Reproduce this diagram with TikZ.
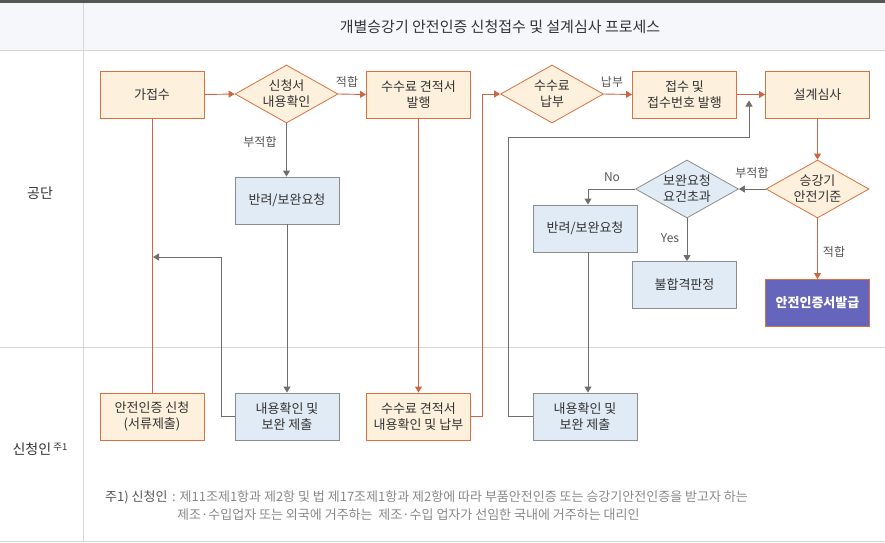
\documentclass[tikz,border=0pt]{standalone}
\usepackage{fontspec}
\setmainfont{Noto Sans CJK KR}
\usetikzlibrary{shapes.geometric,arrows.meta}
\definecolor{ob}{HTML}{D9703F}
\definecolor{of}{HTML}{FDF0DC}
\definecolor{gb}{HTML}{8C8C8C}
\definecolor{gf}{HTML}{E1EBF5}
\definecolor{ga}{HTML}{6E6E6E}
\definecolor{ol}{HTML}{CC6644}
\definecolor{pf}{HTML}{6565BB}
\definecolor{hd}{HTML}{F5F7FB}
\definecolor{ln}{HTML}{D6D6D6}
\definecolor{tx}{HTML}{333333}
\definecolor{lt}{HTML}{555555}
\definecolor{ft}{HTML}{888888}
\definecolor{topbar}{HTML}{555555}
\begin{document}
\begin{tikzpicture}[x=1pt,y=-1pt,
  box/.style={line width=0.9pt, minimum width=104pt, minimum height=47pt, inner sep=0pt, align=center, font=\fontsize{13}{16}\selectfont, text=tx},
  obox/.style={box, draw=ob, fill=of},
  gbox/.style={box, draw=gb, fill=gf},
  pbox/.style={box, draw=ob, fill=pf, text=white, font=\fontsize{13}{16}\selectfont\bfseries},
  dia/.style={diamond, minimum width=103pt, minimum height=58pt, inner sep=0pt, line width=0.8pt},
  odia/.style={dia, draw=ob, fill=of},
  gdia/.style={dia, draw=gb, fill=gf},
  dtext/.style={align=center, font=\fontsize{13}{16}\selectfont, text=tx},
  oarr/.style={draw=ol, line width=0.9pt, -{Triangle[width=7pt,length=6pt]}},
  oline/.style={draw=ol, line width=0.9pt},
  garr/.style={draw=ga, line width=0.9pt, -{Triangle[width=7pt,length=6pt]}},
  lbl/.style={font=\fontsize{12}{14}\selectfont, text=lt},
  lane/.style={draw=ln, line width=0.8pt}
]
\useasboundingbox (0,0) rectangle (885,542);
% background
\fill[hd] (0,2) rectangle (885,50);
\fill[topbar] (0,0) rectangle (885,2.5);
\draw[lane] (0,50) -- (885,50);
\draw[lane] (0,347) -- (885,347);
\draw[lane] (0,541) -- (885,541);
\draw[lane] (83,2.5) -- (83,541);
\node[font=\fontsize{15}{17}\selectfont, text=tx] (title) at (500,27) {개별승강기 안전인증 신청접수 및 설계심사 프로세스};
\node[font=\fontsize{14}{16}\selectfont, text=tx] (lane1) at (40,193) {공단};
\node[font=\fontsize{14}{16}\selectfont, text=tx] (lane2) at (40,449) {신청인\,\raisebox{0.55ex}{\fontsize{9.5}{10}\selectfont 주1}};

% top lane
\node[obox] (gj) at (152,94.5) {가접수};
\node[odia] (d1) at (286.5,94) {};
\node[dtext] (d1t) at (286.5,94) {신청서\\내용확인};
\node[obox] (fee) at (418.5,94.5) {수수료 견적서\\발행};
\node[odia] (d2) at (552,94) {};
\node[dtext] (d2t) at (552,94) {수수료\\납부};
\node[obox] (rcv) at (684.5,94.5) {접수 및\\접수번호 발행};
\node[obox] (des) at (817.5,94.5) {설계심사};
\node[gbox] (rjL) at (287,200.5) {반려/보완요청};
\node[odia] (d3) at (817.5,189) {};
\node[dtext] (d3t) at (817.5,189) {승강기\\안전기준};
\node[gdia] (d4) at (687,189) {};
\node[dtext] (d4t) at (687,189) {보완요청\\요건초과};
\node[gbox] (rjR) at (585,228.5) {반려/보완요청};
\node[gbox] (fail) at (684.5,285) {불합격판정};
\node[pbox] (iss) at (817.5,303) {안전인증서발급};

% bottom lane
\node[obox] (app) at (152,416.5) {안전인증 신청\\(서류제출)};
\node[gbox] (subL) at (287,416.5) {내용확인 및\\보완 제출};
\node[obox] (pay) at (418.5,416.5) {수수료 견적서\\내용확인 및 납부};
\node[gbox] (subR) at (585,416.5) {내용확인 및\\보완 제출};

% coordinates
\coordinate (m1) at (221,416.5);
\coordinate (m2) at (221,257);
\coordinate (m3) at (153,257);
\coordinate (p1) at (482,416.5);
\coordinate (p2) at (482,94);
\coordinate (r1) at (508,416.5);
\coordinate (r2) at (508,137);
\coordinate (r3) at (749,137);
\coordinate (r4) at (749,100.5);
\coordinate (n1) at (588,189);

% connectors
\draw[oline] (app.north) -- (gj.south);
\draw[oarr] (gj.east) -- (d1.west);
\draw[oarr] (d1.east) -- (fee.west);
\node[lbl] (l1) at (347,82) {적합};
\draw[garr] (d1.south) -- (d1.south |- rjL.north);
\node[lbl] (l2) at (260,142) {부적합};
\draw[garr] (rjL.south) -- (subL.north);
\draw[garr] (subL.west) -- (m1) -- (m2) -- (m3);
\draw[oarr] (fee.south) -- (pay.north);
\draw[oarr] (pay.east) -- (p1) -- (p2) -- (d2.west);
\draw[oarr] (d2.east) -- (rcv.west);
\node[lbl] (l3) at (612,82) {납부};
\draw[oarr] (rcv.east) -- (des.west);
\draw[oarr] (des.south) -- (d3.north);
\draw[garr] (d3.west) -- (d4.east);
\node[lbl] (l4) at (752,173) {부적합};
\draw[garr] (d4.west) -- (n1) -- ([xshift=3pt]rjR.north);
\node[lbl] (l5) at (612,177) {No};
\draw[garr] (d4.south) -- (d4.south |- fail.north);
\node[lbl] (l6) at (670,238) {Yes};
\draw[oarr] (d3.south) -- (iss.north);
\node[lbl] (l7) at (834,252) {적합};
\draw[garr] ([xshift=3pt]rjR.south) -- ([xshift=3pt]subR.north);
\draw[garr] (subR.west) -- (r1) -- (r2) -- (r3) -- (r4);

% footnote
\node[anchor=base west, inner sep=0pt, font=\fontsize{13}{15}\selectfont, text=lt] (fn1) at (105,501) {주1) 신청인};
\node[anchor=base west, inner sep=0pt, font=\fontsize{13}{15}\selectfont, text=ft] (fn2) at (172,501) {: 제11조제1항과 제2항 및 법 제17조제1항과 제2항에 따라 부품안전인증 또는 승강기안전인증을 받고자 하는};
\node[anchor=base west, inner sep=0pt, font=\fontsize{13}{15}\selectfont, text=ft] (fn3) at (177,519) {제조·수입업자 또는 외국에 거주하는 \ 제조·수입 업자가 선임한 국내에 거주하는 대리인};
\end{tikzpicture}
\end{document}
